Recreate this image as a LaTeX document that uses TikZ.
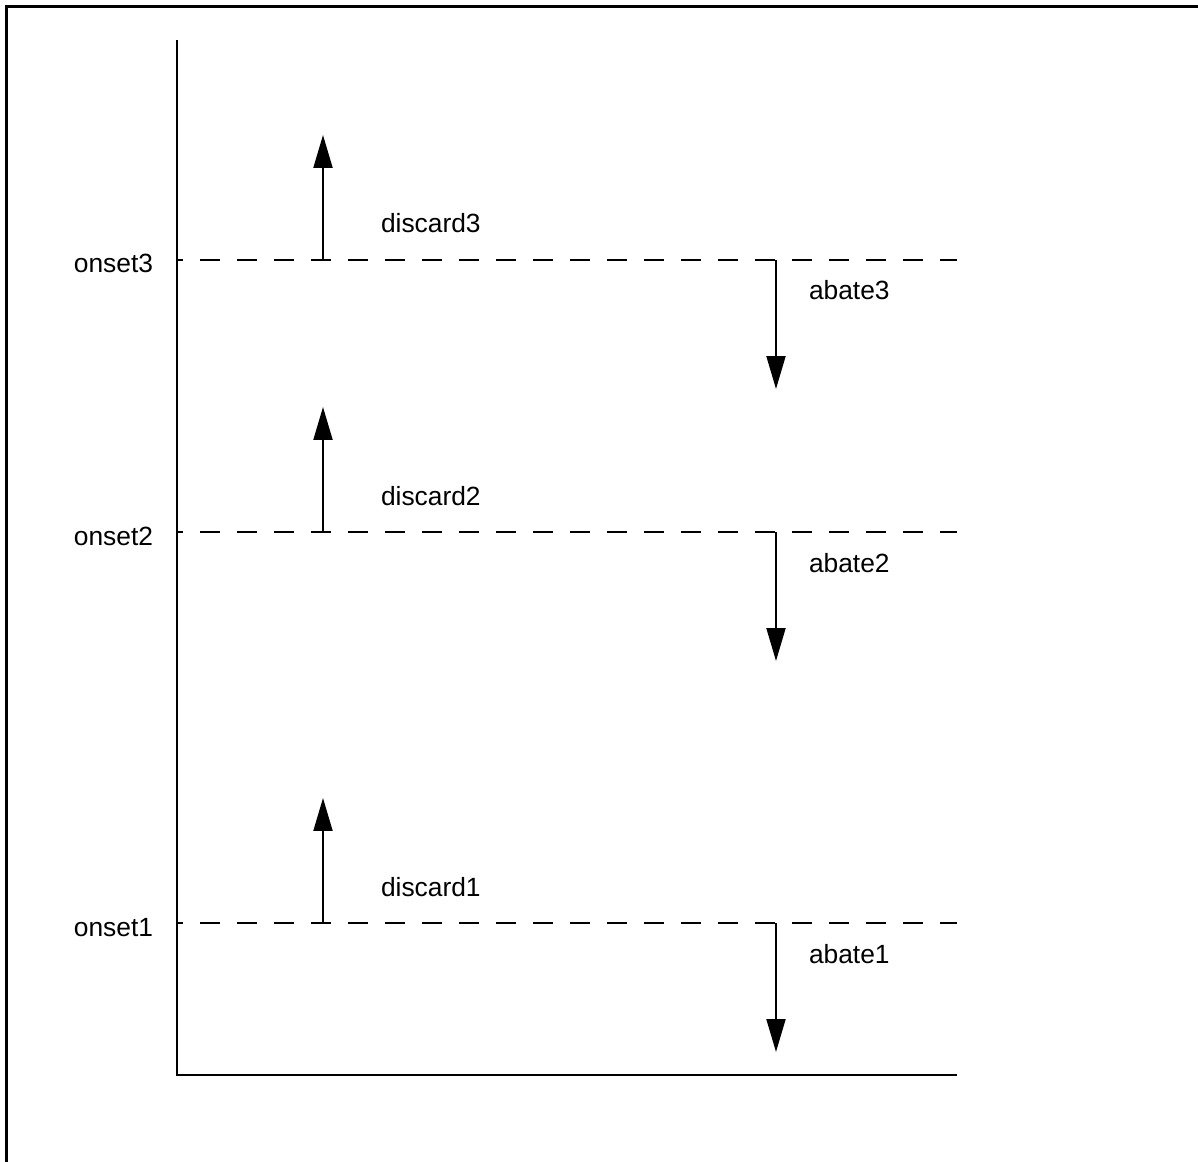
\documentclass[tikz,border=0pt]{standalone}
\usepackage{fontspec}
\setmainfont{Liberation Sans}
\usetikzlibrary{arrows.meta}

\begin{document}
\begin{tikzpicture}[x=0.02cm, y=-0.02cm, line width=0.04cm,
    font=\fontsize{15}{18}\selectfont,
    lvlline/.style={dash pattern=on 0.4cm off 0.34cm, dash phase=0.28cm},
    flow/.style={-{Triangle[length=0.66cm, width=0.38cm]}},
    lab/.style={inner sep=0pt, anchor=base west}]
  \useasboundingbox (0,0) rectangle (1198,1162);
  % frame
  \draw[line width=0.06cm] (6.5,1162) -- (6.5,6.5) -- (1198,6.5);
  % axes
  \coordinate (top) at (177,40);
  \coordinate (orig) at (177,1075);
  \coordinate (xend) at (957,1075);
  \draw (top) -- (orig) -- (xend);
  % onset levels
  \foreach \y/\n in {923/1, 532/2, 260/3} {
    \node[inner sep=0pt, anchor=base east] (onset\n) at (154,\y+13) {onset\n};
    \coordinate (l\n) at (177,\y);
    \coordinate (r\n) at (957,\y);
    \draw[lvlline] (l\n) -- (r\n);
    \coordinate (up\n) at (323,\y);
    \coordinate (upend\n) at (323,\y-125);
    \draw[flow] (up\n) -- (upend\n);
    \node[lab] (discard\n) at (380,\y-27) {discard\n};
    \coordinate (dn\n) at (776,\y);
    \coordinate (dnend\n) at (776,\y+129);
    \draw[flow] (dn\n) -- (dnend\n);
    \node[lab] (abate\n) at (808,\y+40) {abate\n};
  }
\end{tikzpicture}
\end{document}
